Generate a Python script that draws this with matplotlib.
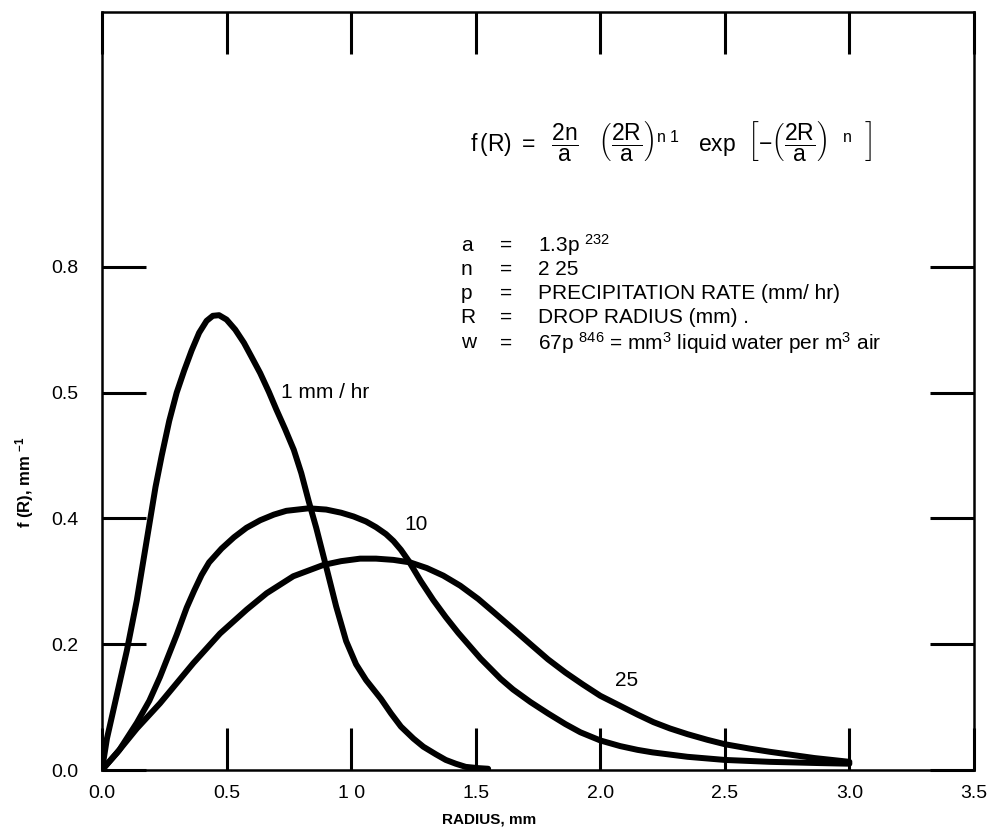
import matplotlib
matplotlib.use('Agg')
import matplotlib.pyplot as plt

plt.rcParams['font.family'] = ['Liberation Sans', 'DejaVu Sans']
plt.rcParams['mathtext.fontset'] = 'custom'
plt.rcParams['mathtext.rm'] = 'Liberation Sans'
plt.rcParams['mathtext.it'] = 'Liberation Sans'
plt.rcParams['mathtext.bf'] = 'Liberation Sans:bold'

# drop size distributions
r_1mm = [0.0, 0.02, 0.06, 0.10, 0.14, 0.165, 0.19, 0.215, 0.24, 0.27, 0.30, 0.33,
         0.36, 0.39, 0.42, 0.445, 0.47, 0.50, 0.535, 0.57, 0.60, 0.635, 0.67, 0.70,
         0.735, 0.77, 0.80, 0.83, 0.86, 0.90, 0.94, 0.98, 1.02, 1.06, 1.09, 1.12,
         1.16, 1.20, 1.25, 1.29, 1.34, 1.38, 1.42, 1.46, 1.51, 1.55]
f_1mm = [0.0, 0.05, 0.12, 0.19, 0.27, 0.33, 0.39, 0.45, 0.50, 0.555, 0.60, 0.635,
         0.667, 0.695, 0.714, 0.722, 0.723, 0.716, 0.700, 0.679, 0.657, 0.631, 0.601, 0.573,
         0.542, 0.509, 0.472, 0.427, 0.385, 0.323, 0.260, 0.205, 0.168, 0.143, 0.128, 0.113,
         0.090, 0.069, 0.050, 0.037, 0.025, 0.016, 0.010, 0.005, 0.003, 0.002]

r_10mm = [0.0, 0.07, 0.14, 0.19, 0.233, 0.27, 0.30, 0.34, 0.37, 0.40, 0.43, 0.48,
          0.53, 0.58, 0.635, 0.69, 0.74, 0.83, 0.90, 0.96, 1.01, 1.06, 1.10, 1.14,
          1.17, 1.20, 1.23, 1.28, 1.33, 1.38, 1.43, 1.52, 1.60, 1.65, 1.72, 1.79,
          1.86, 1.92, 2.0, 2.08, 2.15, 2.21, 2.35, 2.50, 2.68, 2.88, 3.0]
f_10mm = [0.0, 0.032, 0.075, 0.11, 0.148, 0.185, 0.215, 0.258, 0.285, 0.31, 0.33, 0.352,
          0.370, 0.385, 0.397, 0.406, 0.412, 0.416, 0.414, 0.409, 0.403, 0.395, 0.386, 0.375,
          0.364, 0.35, 0.333, 0.30, 0.27, 0.243, 0.218, 0.177, 0.145, 0.128, 0.108, 0.09,
          0.073, 0.06, 0.047, 0.038, 0.032, 0.028, 0.021, 0.016, 0.013, 0.011, 0.010]

r_25mm = [0.0, 0.06, 0.14, 0.233, 0.30, 0.367, 0.474, 0.581, 0.661, 0.768, 0.889, 0.96,
          1.036, 1.10, 1.17, 1.237, 1.304, 1.37, 1.438, 1.51, 1.575, 1.645, 1.72, 1.79,
          1.86, 1.93, 2.00, 2.08, 2.15, 2.214, 2.28, 2.35, 2.43, 2.50, 2.60, 2.68,
          2.77, 2.86, 2.93, 3.0]
f_25mm = [0.0, 0.027, 0.066, 0.106, 0.138, 0.170, 0.217, 0.255, 0.281, 0.308, 0.326, 0.332,
          0.336, 0.336, 0.334, 0.330, 0.321, 0.309, 0.293, 0.272, 0.250, 0.226, 0.200, 0.176,
          0.155, 0.136, 0.118, 0.102, 0.088, 0.076, 0.066, 0.057, 0.048, 0.041, 0.034, 0.029,
          0.024, 0.019, 0.016, 0.013]

x_ticks = [0.0, 0.5, 1.0, 1.5, 2.0, 2.5, 3.0, 3.5]
x_ticklabels = ['0.0', '0.5', '1 0', '1.5', '2.0', '2.5', '3.0', '3.5']
y_ticks = [0.0, 0.2, 0.4, 0.6, 0.8]
y_ticklabels = ['0.0', '0.2', '0.4', '0.5', '0.8']

fig = plt.figure(figsize=(9.88, 8.31), dpi=100)
ax = fig.add_axes([0.1032, 0.0734, 0.8826, 0.9122])

for r, f in [(r_1mm, f_1mm), (r_10mm, f_10mm), (r_25mm, f_25mm)]:
    ax.plot(r, f, color='black', lw=4.3, solid_capstyle='round', solid_joinstyle='round')

ax.set_xlim(0, 3.5)
ax.set_ylim(0, 1.205)
ax.set_xticks(x_ticks)
ax.set_xticklabels(x_ticklabels)
ax.set_yticks(y_ticks)
ax.set_yticklabels(y_ticklabels)
ax.tick_params(axis='x', direction='in', length=30, width=2.2, top=True, pad=11, labelsize=14)
ax.tick_params(axis='y', direction='in', length=32, width=2.2, right=True, pad=17, labelsize=14)
for s in ax.spines.values():
    s.set_linewidth(1.8)

# curve labels
ax.text(0.72, 0.60, '1 mm / hr', fontsize=15, va='center')
ax.text(1.215, 0.39, '10', fontsize=15, va='center')
ax.text(2.06, 0.143, '25', fontsize=15, va='center')

# formula and legend block
ax.text(1.478, 1.0,
        r'$\mathrm{f\,(R)\ =\ \ }\dfrac{2n}{a}\quad\left(\dfrac{2R}{a}\right)^{n\ 1}\ \ \ \mathrm{exp}\ \ \left[-\left(\dfrac{2R}{a}\right)^{\quad n}\ \ \right]$',
        fontsize=16.5, va='center')
sym = ['a', 'n', 'p', 'R', 'w']
desc = [r'1.3p $^{232}$', '2 25', 'PRECIPITATION RATE (mm/ hr)', 'DROP RADIUS (mm) .',
        r'67p $^{846}$ = mm$^3$ liquid water per m$^3$ air']
rows_y = [0.834, 0.796, 0.758, 0.720, 0.679]
for s, d, y in zip(sym, desc, rows_y):
    ax.text(1.44, y, s, fontsize=15, va='center')
    ax.text(1.62, y, '=', fontsize=15, va='center', ha='center')
    ax.text(1.751, y, d, fontsize=15, va='center')

fig.text(489 / 988, 1 - 820 / 831, 'RADIUS, mm', fontsize=11, fontweight='bold',
         ha='center', va='center')
fig.text(25 / 988, 1 - 482 / 831, r'f (R), mm $^{\mathbf{-1}}$', fontsize=12,
         fontweight='bold', rotation=90, ha='center', va='center')

fig.savefig('out.png', dpi=100)
